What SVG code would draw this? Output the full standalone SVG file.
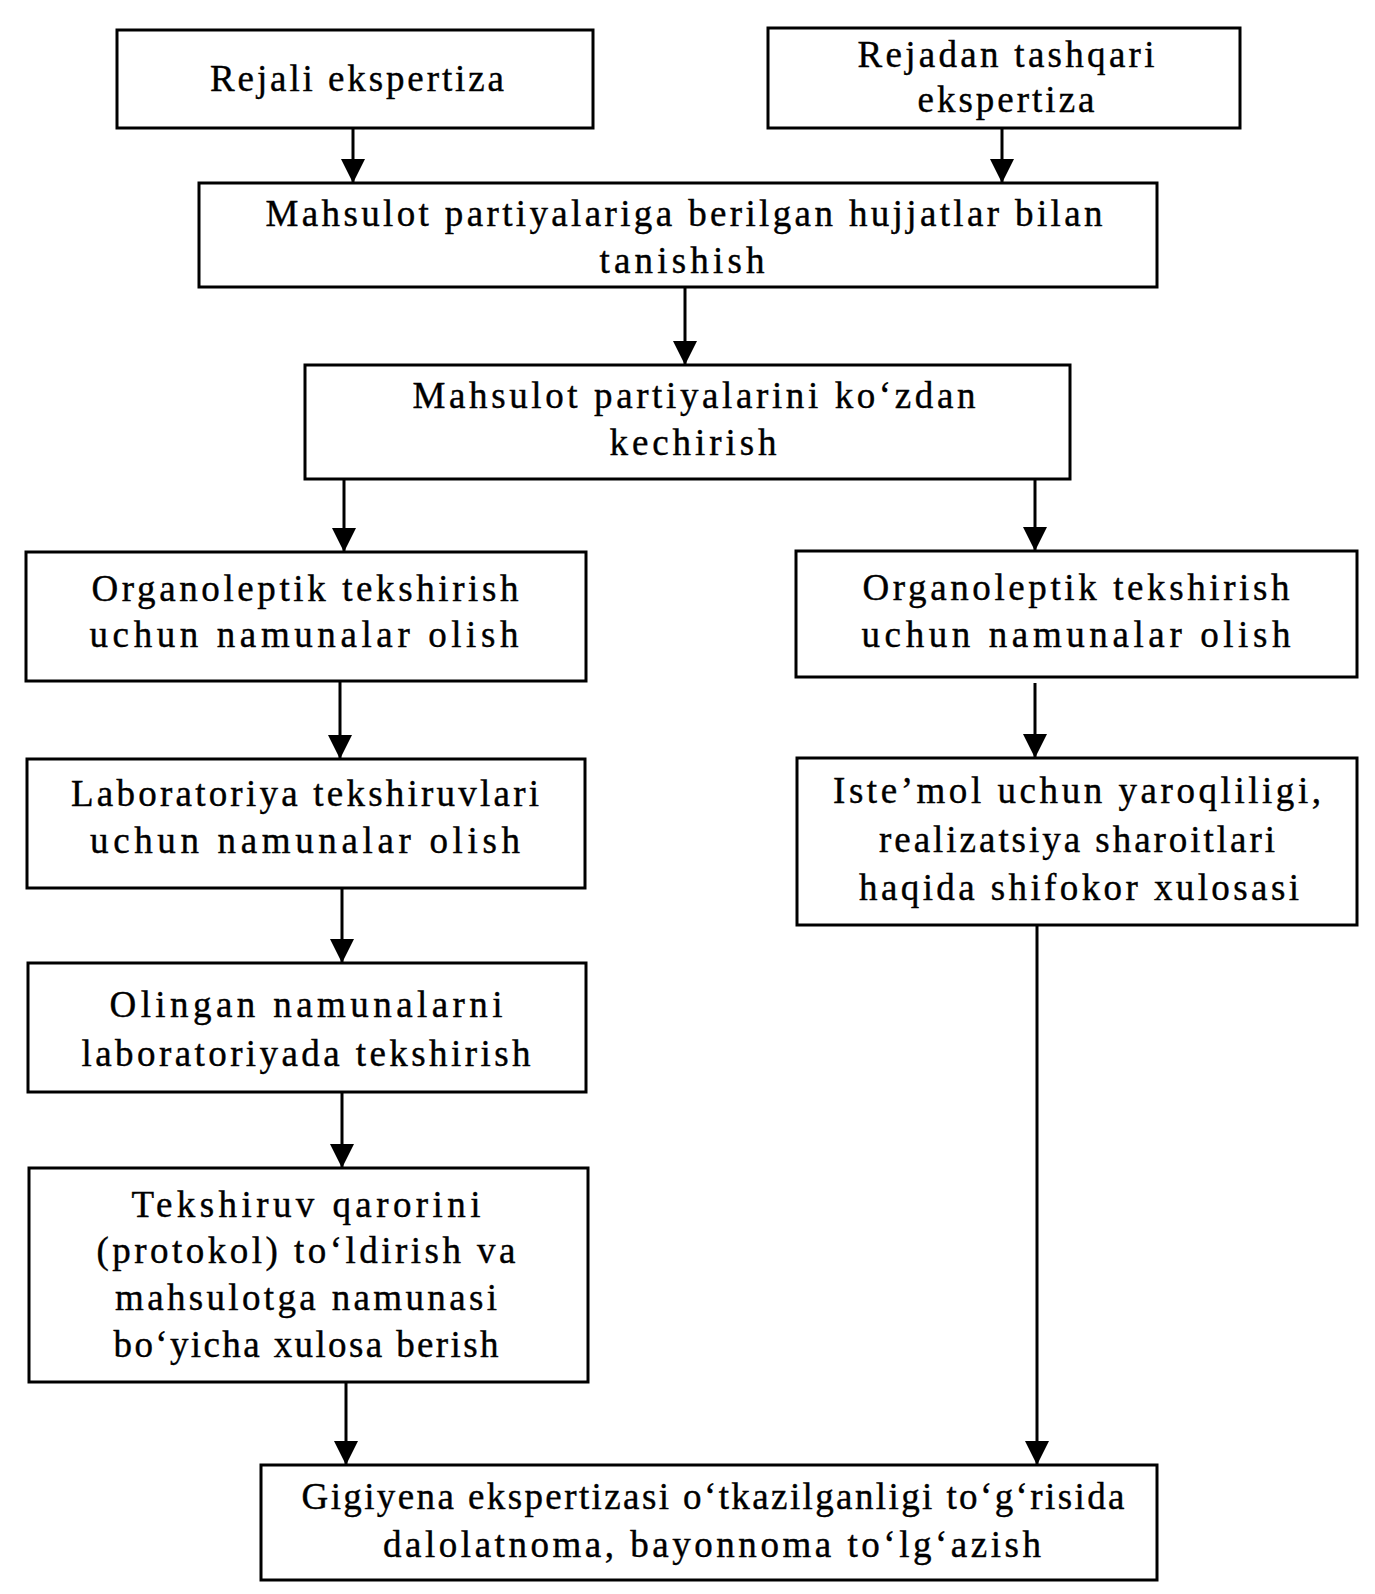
<svg xmlns="http://www.w3.org/2000/svg" width="1375" height="1594" viewBox="0 0 1375 1594">
<style>
.box{fill:#fff;stroke:#000;stroke-width:3}
.t{font-family:"Liberation Serif","Times New Roman",serif;font-size:37px;fill:#000;stroke:#000;stroke-width:0.4;text-anchor:middle}
.c{stroke:#000;stroke-width:3;fill:none;marker-end:url(#ah)}
</style>
<defs>
<marker id="ah" viewBox="0 0 24 24" refX="24" refY="12" markerWidth="24" markerHeight="24" markerUnits="userSpaceOnUse" orient="auto">
<path d="M0,0 L24,12 L0,24 z" fill="#000"/>
</marker>
</defs>
<rect width="1375" height="1594" fill="#fff"/>
<g id="connectors">
<line class="c" x1="353" y1="128" x2="353" y2="183"/>
<line class="c" x1="1002" y1="128" x2="1002" y2="183"/>
<line class="c" x1="685" y1="287" x2="685" y2="365"/>
<line class="c" x1="344" y1="479" x2="344" y2="552"/>
<line class="c" x1="1035" y1="479" x2="1035" y2="551"/>
<line class="c" x1="340" y1="681" x2="340" y2="759"/>
<line class="c" x1="1035" y1="683" x2="1035" y2="758"/>
<line class="c" x1="342" y1="888" x2="342" y2="963"/>
<line class="c" x1="342" y1="1092" x2="342" y2="1168"/>
<line class="c" x1="346" y1="1382" x2="346" y2="1465"/>
<line class="c" x1="1037" y1="925" x2="1037" y2="1465"/>
</g>
<g id="n1">
<rect class="box" x="117" y="30" width="476" height="98"/>
<text class="t" x="357" y="91" textLength="294">Rejali ekspertiza</text>
</g>
<g id="n2">
<rect class="box" x="768" y="28" width="472" height="100"/>
<text class="t" x="1006" y="67" textLength="297">Rejadan tashqari</text>
<text class="t" x="1006" y="112" textLength="177">ekspertiza</text>
</g>
<g id="n3">
<rect class="box" x="199" y="183" width="958" height="104"/>
<text class="t" x="684" y="226" textLength="837">Mahsulot partiyalariga berilgan hujjatlar bilan</text>
<text class="t" x="682" y="273" textLength="165">tanishish</text>
</g>
<g id="n4">
<rect class="box" x="305" y="365" width="765" height="114"/>
<text class="t" x="694" y="408" textLength="563">Mahsulot partiyalarini ko‘zdan</text>
<text class="t" x="693" y="455" textLength="167">kechirish</text>
</g>
<g id="n5">
<rect class="box" x="26" y="552" width="560" height="129"/>
<text class="t" x="305" y="601" textLength="427">Organoleptik tekshirish</text>
<text class="t" x="304" y="647" textLength="429">uchun namunalar olish</text>
</g>
<g id="n6">
<rect class="box" x="796" y="551" width="561" height="126"/>
<text class="t" x="1076" y="600" textLength="427">Organoleptik tekshirish</text>
<text class="t" x="1076" y="647" textLength="429">uchun namunalar olish</text>
</g>
<g id="n7">
<rect class="box" x="27" y="759" width="558" height="129"/>
<text class="t" x="305" y="806" textLength="468">Laboratoriya tekshiruvlari</text>
<text class="t" x="305" y="853" textLength="430">uchun namunalar olish</text>
</g>
<g id="n8">
<rect class="box" x="797" y="758" width="560" height="167"/>
<text class="t" x="1077" y="803" textLength="488">Iste’mol uchun yaroqliligi,</text>
<text class="t" x="1077" y="852" textLength="396">realizatsiya sharoitlari</text>
<text class="t" x="1079" y="900" textLength="440">haqida shifokor xulosasi</text>
</g>
<g id="n9">
<rect class="box" x="28" y="963" width="558" height="129"/>
<text class="t" x="306" y="1017" textLength="393">Olingan namunalarni</text>
<text class="t" x="306" y="1066" textLength="449">laboratoriyada tekshirish</text>
</g>
<g id="n10">
<rect class="box" x="29" y="1168" width="559" height="214"/>
<text class="t" x="306" y="1217" textLength="349">Tekshiruv qarorini</text>
<text class="t" x="306" y="1263" textLength="419">(protokol) to‘ldirish va</text>
<text class="t" x="306" y="1310" textLength="382">mahsulotga namunasi</text>
<text class="t" x="306" y="1357" textLength="385">bo‘yicha xulosa berish</text>
</g>
<g id="n11">
<rect class="box" x="261" y="1465" width="896" height="115"/>
<text class="t" x="713" y="1509" textLength="823">Gigiyena ekspertizasi o‘tkazilganligi to‘g‘risida</text>
<text class="t" x="712" y="1557" textLength="658">dalolatnoma, bayonnoma to‘lg‘azish</text>
</g>
</svg>
